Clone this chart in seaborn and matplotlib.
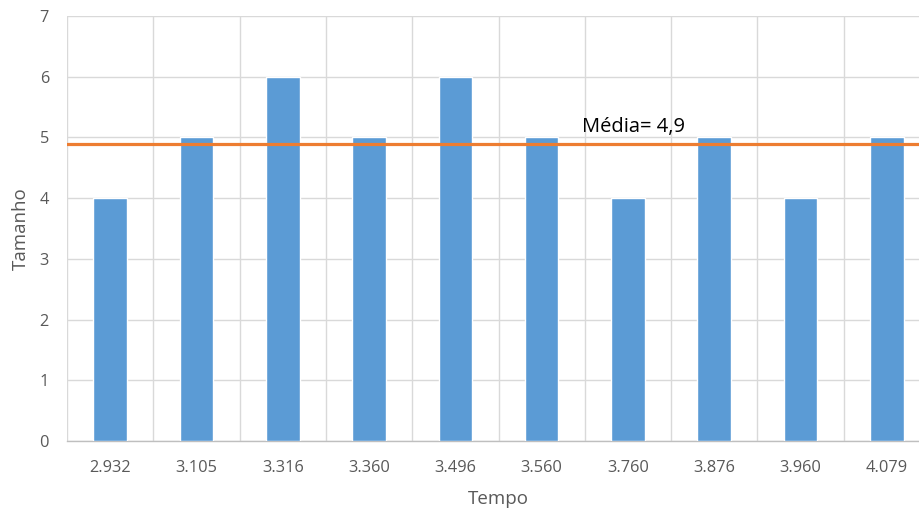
import matplotlib
matplotlib.use("Agg")
import matplotlib.pyplot as plt
import seaborn as sns
import pandas as pd
import numpy as np

# Tempo categories and measured sizes
tempo = ["2.932", "3.105", "3.316", "3.360", "3.496", "3.560", "3.760", "3.876", "3.960", "4.079"]
tamanho = [4, 5, 6, 5, 6, 5, 4, 5, 4, 5]
y_ticks = [0, 1, 2, 3, 4, 5, 6, 7]

df = pd.DataFrame({"Tempo": tempo, "Tamanho": tamanho})
media = float(np.mean(tamanho))

sns.set_theme(style="white")
plt.rcParams["font.family"] = ["Open Sans", "DejaVu Sans"]

fig = plt.figure(figsize=(9.19, 5.09), dpi=100)
ax = fig.add_axes([67 / 919, 68 / 509, 863 / 919, 425 / 509])

sns.barplot(data=df, x="Tempo", y="Tamanho", order=tempo, color="#5B9BD5",
            width=0.39, saturation=1, ax=ax, zorder=3)

n = len(tempo)
ax.set_xlim(-0.5, n - 0.5)
ax.set_ylim(0, 7)
ax.set_yticks(y_ticks)

# Category boundaries as vertical grid lines
ax.set_xticks(np.arange(-0.5, n, 1.0), minor=True)
ax.grid(which="minor", axis="x", color="#d9d9d9", linewidth=1.0, zorder=0)
ax.grid(which="major", axis="y", color="#d9d9d9", linewidth=1.0, zorder=0)
ax.grid(which="major", axis="x", visible=False)
ax.set_axisbelow(True)

for side in ["top", "right", "left"]:
    ax.spines[side].set_visible(False)
ax.spines["bottom"].set_color("#bfbfbf")
ax.spines["bottom"].set_linewidth(1.0)

ax.tick_params(axis="both", which="both", length=0, labelsize=11.8, labelcolor="#595959")
ax.tick_params(axis="y", pad=13)
ax.tick_params(axis="x", pad=14)

ax.set_xlabel("Tempo", fontsize=13.5, color="#595959", labelpad=10)
ax.set_ylabel("Tamanho", fontsize=13.5, color="#595959", labelpad=7)

# Mean line with its label
ax.axhline(media, color="#ED7D31", linewidth=2.3, zorder=4)
ax.text(6.07, media + 0.1, f"Média= {media:.1f}".replace(".", ","), fontsize=14.5,
        color="black", va="bottom", ha="center", zorder=5)

fig.savefig("out.png", dpi=100)
